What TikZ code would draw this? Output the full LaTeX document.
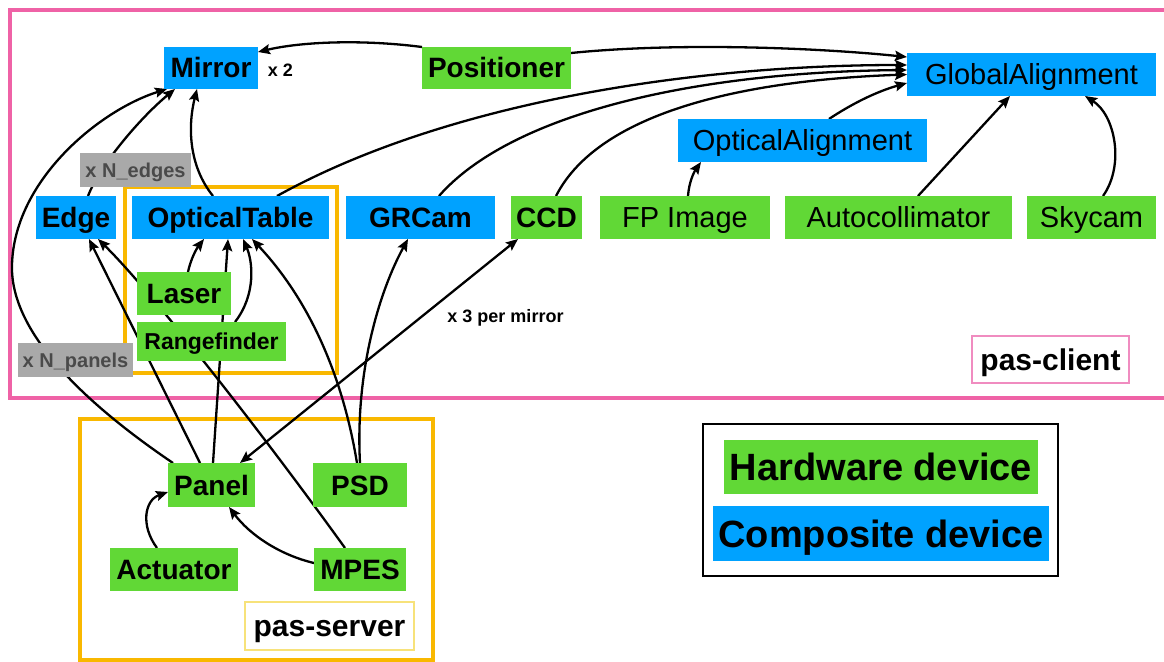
\documentclass[tikz,border=0pt]{standalone}
\usepackage{fontspec}
\setmainfont{Liberation Sans}
\usetikzlibrary{arrows.meta}
\definecolor{cpblue}{HTML}{00A2FF}
\definecolor{hwgreen}{HTML}{61D836}
\definecolor{lblgray}{HTML}{A9A9A9}
\definecolor{lbltext}{HTML}{4A4A4A}
\definecolor{pinkc}{HTML}{EF62A6}
\definecolor{pinklight}{HTML}{F08CC0}
\definecolor{orangec}{HTML}{F9B800}
\definecolor{yellowc}{HTML}{F7E27A}
\pgfdeclarelayer{frames}
\pgfdeclarelayer{edges}
\pgfsetlayers{frames,edges,main}
\tikzset{
 dev/.style={inner sep=0pt, outer sep=0pt, font=\bfseries\fontsize{28bp}{30bp}\selectfont, text height=20bp, text depth=0pt},
 reg/.style={font=\fontsize{29bp}{31bp}\selectfont, text height=20.8bp},
 hw/.style={dev, fill=hwgreen},
 cp/.style={dev, fill=cpblue},
 mult/.style={inner sep=0pt, outer sep=0pt, fill=lblgray, text=lbltext, font=\bfseries\fontsize{20bp}{22bp}\selectfont, text height=14.3bp, text depth=0pt},
 note/.style={inner sep=0pt, font=\bfseries\fontsize{18bp}{20bp}\selectfont},
 tagbox/.style={inner sep=0pt, outer sep=0pt, fill=white, line width=1.5bp, font=\bfseries\fontsize{30bp}{32bp}\selectfont, text height=21.5bp, text depth=0pt},
 legtext/.style={font=\bfseries\fontsize{38bp}{40bp}\selectfont, text height=27.2bp},
 conn/.style={line width=2.3bp, -{Stealth[length=12bp,width=10bp,inset=2bp]}},
 twoway/.style={line width=2.3bp, {Stealth[length=12bp,width=10bp,inset=2bp]}-{Stealth[length=12bp,width=10bp,inset=2bp]}},
 grpframe/.style={line width=4bp}
}
\begin{document}
\begin{tikzpicture}[x=1bp,y=-1bp]
\useasboundingbox (0,0) rectangle (1164,662);

% nodes
\node[cp, minimum width=94bp, minimum height=42bp] (mirror) at (211,68) {Mirror};
\node[note] (x2) at (280.5,70) {x 2};
\node[hw, minimum width=149bp, minimum height=42bp] (positioner) at (496.5,68) {Positioner};
\node[cp, reg, minimum width=249bp, minimum height=43bp] (ga) at (1031.5,74.5) {GlobalAlignment};
\node[cp, reg, minimum width=249bp, minimum height=43bp] (oa) at (802.5,140.5) {OpticalAlignment};
\node[cp, minimum width=80bp, minimum height=43bp] (edge) at (76,217.5) {Edge};
\node[cp, minimum width=197bp, minimum height=43bp] (ot) at (230.5,217.5) {OpticalTable};
\node[cp, minimum width=149bp, minimum height=43bp] (grcam) at (420.5,217.5) {GRCam};
\node[hw, minimum width=71bp, minimum height=43bp] (ccd) at (546.5,217.5) {CCD};
\node[hw, reg, minimum width=170bp, minimum height=43bp] (fp) at (685,217.5) {FP Image};
\node[hw, reg, minimum width=227bp, minimum height=43bp] (auto) at (898.5,217.5) {Autocollimator};
\node[hw, reg, minimum width=129bp, minimum height=43bp] (sky) at (1091.5,217.5) {Skycam};
\node[hw, minimum width=94bp, minimum height=43bp] (laser) at (184,293.5) {Laser};
\node[hw, font=\bfseries\fontsize{23bp}{25bp}\selectfont, text height=16.5bp, minimum width=149bp, minimum height=39bp] (rf) at (211.5,341.5) {Rangefinder};
\node[hw, minimum width=87bp, minimum height=44bp] (panel) at (211.5,485) {Panel};
\node[hw, minimum width=94bp, minimum height=44bp] (psd) at (360,485) {PSD};
\node[hw, minimum width=128bp, minimum height=43bp] (act) at (174,569.5) {Actuator};
\node[hw, minimum width=92bp, minimum height=43bp] (mpes) at (360,569.5) {MPES};
\node[mult, minimum width=111bp, minimum height=34bp] (nedges) at (135.5,170) {x N\_edges};
\node[mult, minimum width=115bp, minimum height=34bp] (npanels) at (75.5,360) {x N\_panels};
\node[note] (x3) at (505.5,318) {x 3 per mirror};
\node[tagbox, draw=pinklight, minimum width=157bp, minimum height=47bp] (client) at (1050.5,359.5) {pas-client};
\node[tagbox, draw=yellowc, minimum width=169bp, minimum height=48bp] (server) at (329.5,626) {pas-server};
\node[draw=black, line width=2.5bp, inner sep=0pt, minimum width=355bp, minimum height=152bp] (legend) at (880.5,500) {};
\node[hw, legtext, minimum width=314bp, minimum height=54bp] (lhw) at (881,467) {Hardware device};
\node[cp, legtext, minimum width=336bp, minimum height=55bp] (lcp) at (881,533.5) {Composite device};

% group frames
\begin{pgfonlayer}{frames}
\draw[pinkc, grpframe] (9.5,10) rectangle (1180,397.5);
\draw[orangec, grpframe] (125,187) rectangle (337,373);
\draw[orangec, grpframe] (80,419) rectangle (433,660);
\end{pgfonlayer}

% connectors
\begin{pgfonlayer}{edges}
\draw[conn] (positioner.north west) .. controls (360,39) and (300,42) .. ([yshift=16bp]mirror.east);
\draw[conn] ([yshift=15bp]positioner.east) .. controls (680,42) and (820,48) .. ([yshift=17.5bp]ga.west);
\draw[conn] ([xshift=46.5bp]ot.north) .. controls (450,100) and (700,65) .. ([yshift=9.5bp]ga.west);
\draw[conn] ([xshift=18.5bp]grcam.north) .. controls (510,115) and (690,72) .. ([yshift=4.5bp]ga.west);
\draw[conn] ([xshift=9.5bp]ccd.north) .. controls (600,110) and (750,80) .. (ga.west);
\draw[conn] ([xshift=26.5bp]oa.north) .. controls (850,105) and (875,92) .. ([yshift=-8.5bp]ga.west);
\draw[conn] ([xshift=3bp]fp.north) .. controls (689,182) and (694,172) .. ([xshift=-101.5bp]oa.south);
\draw[conn] ([xshift=19.5bp]auto.north) -- ([xshift=-21.5bp]ga.south);
\draw[conn] ([xshift=11.5bp]sky.north) .. controls (1125,165) and (1115,115) .. ([xshift=53.5bp]ga.south);
\draw[conn] ([xshift=-38.5bp]panel.north) .. controls (80,400) and (10,330) .. (12,265) .. controls (14,180) and (100,110) .. ([xshift=-44bp]mirror.south);
\draw[conn] ([xshift=12bp]edge.north) .. controls (100,165) and (140,118) .. ([xshift=-36bp]mirror.south);
\draw[conn] ([xshift=-17.5bp]ot.north) .. controls (188,165) and (188,125) .. ([xshift=-14bp]mirror.south);
\draw[conn] ([xshift=4bp]laser.north) .. controls (191,258) and (197,248) .. ([xshift=-26.5bp]ot.south);
\draw[conn] ([xshift=1.5bp]panel.north) -- ([xshift=-2.5bp]ot.south);
\draw[conn] ([xshift=23.5bp]rf.north) .. controls (256,295) and (253,262) .. ([xshift=12.5bp]ot.south);
\draw[conn] ([xshift=-3bp]psd.north) .. controls (340,360) and (300,290) .. ([xshift=21.5bp]ot.south);
\draw[conn] (psd.north) .. controls (355,370) and (380,290) .. ([xshift=-12.5bp]grcam.south);
\draw[twoway] ([xshift=28.5bp]panel.north) -- ([xshift=-28.5bp]ccd.south);
\draw[conn] ([xshift=-15bp]mpes.north) .. controls (260,430) and (150,290) .. ([xshift=22bp]edge.south);
\draw[conn] ([xshift=-11.5bp]panel.north) -- ([xshift=13bp]edge.south);
\draw[conn] ([xshift=-17bp]act.north) .. controls (140,525) and (145,500) .. ([yshift=-7bp]panel.west);
\draw[conn] ([yshift=6.5bp]mpes.west) .. controls (280,555) and (250,535) .. ([xshift=17.5bp]panel.south);
\end{pgfonlayer}
\end{tikzpicture}
\end{document}
